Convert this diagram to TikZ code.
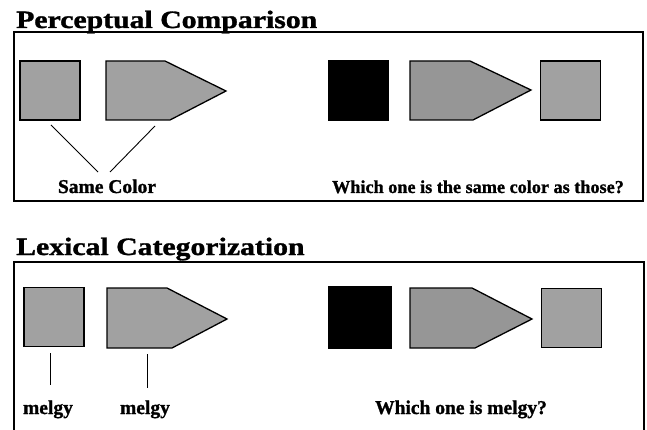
\documentclass[tikz,border=0pt]{standalone}
\usepackage{fontspec}
\setmainfont{Liberation Serif}
\newfontfamily\heavyfont[FakeBold=1.2]{Liberation Serif Bold}
\usepackage{tikz}
\usetikzlibrary{positioning}
\definecolor{shapegray}{gray}{0.63}
\definecolor{darkgray}{gray}{0.59}

\begin{document}
\begin{tikzpicture}[x=1pt,y=-1pt,
  panel/.style={line width=1.4pt},
  sqbox/.style={draw,line width=1.3pt,minimum width=60pt,minimum height=59pt,inner sep=0pt},
  penta/.style={draw,line width=1.3pt,line join=miter},
  tie/.style={line width=0.9pt},
  title/.style={font=\fontsize{25}{25}\selectfont\heavyfont,anchor=base west,inner sep=0pt},
  lbl/.style={font=\fontsize{19.5}{19.5}\selectfont\heavyfont,anchor=base,inner sep=0pt}]
\useasboundingbox (0,0) rectangle (647,430);
% perceptual comparison
\node[title] (ttlA) at (16,28) {\scalebox{1.19}[1]{Perceptual Comparison}};
\draw[panel] (14,32) rectangle (643,201);
\node[sqbox,fill=shapegray] (pcA) at (50,90.5) {};
\draw[penta,fill=shapegray] (106,61) -- (165,61) -- (226,91) -- (170,120) -- (106,120) -- cycle;
\node[sqbox,fill=black] (pcB) at (358.5,90.5) {};
\draw[penta,fill=darkgray] (410,61) -- (470,61) -- (531,90) -- (473,120) -- (410,120) -- cycle;
\node[sqbox,fill=shapegray] (pcC) at (570.5,90.5) {};
\node[lbl] (same) at (107,193) {Same Color};
\node[lbl,font=\fontsize{18.2}{18.2}\selectfont\heavyfont] (askA) at (478,193) {Which one is the same color as those?};
\coordinate (pa1) at (51,125); \coordinate (pb1) at (98,172);
\coordinate (pa2) at (155,126); \coordinate (pb2) at (110,172);
\draw[tie] (pa1) -- (pb1);
\draw[tie] (pa2) -- (pb2);
% lexical categorization
\node[title] (ttlB) at (16,255) {\scalebox{1.19}[1]{Lexical Categorization}};
\draw[panel] (14,430) -- (14,262) -- (644,262) -- (644,430);
\node[sqbox,fill=shapegray] (lcA) at (54,317) {};
\draw[penta,fill=shapegray] (107,288) -- (167,288) -- (227,319) -- (172,348) -- (107,348) -- cycle;
\node[sqbox,fill=black,minimum width=62pt,minimum height=61pt] (lcB) at (360,317.5) {};
\draw[penta,fill=darkgray] (410,288) -- (472,288) -- (532,319) -- (475,348) -- (410,348) -- cycle;
\node[sqbox,fill=shapegray] (lcC) at (571.5,318) {};
\node[lbl] (mA) at (48,414) {melgy};
\node[lbl] (mB) at (145,414) {melgy};
\node[lbl] (askB) at (461,414) {Which one is melgy?};
\foreach \n/\x/\a/\b in {1/50/353/385,2/147/354/388} {
  \coordinate (la\n) at (\x,\a); \coordinate (lb\n) at (\x,\b);
  \draw[tie] (la\n) -- (lb\n);}
\end{tikzpicture}
\end{document}
